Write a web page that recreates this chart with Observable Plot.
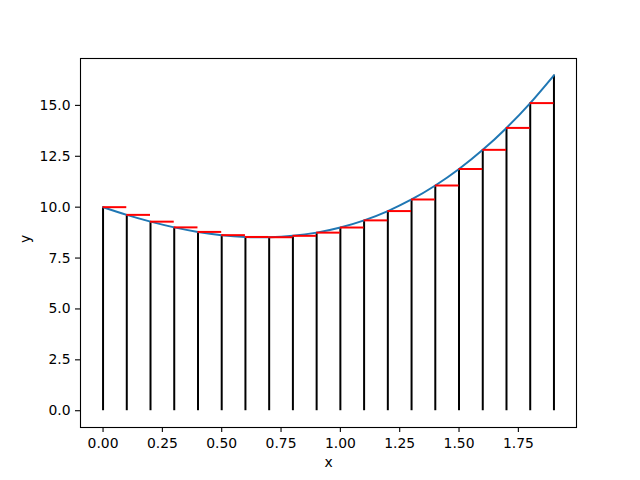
<!DOCTYPE html>
<html>
<head>
<meta charset="utf-8">
<script src="https://cdn.jsdelivr.net/npm/d3@7"></script>
<script src="https://cdn.jsdelivr.net/npm/@observablehq/plot@0.6"></script>
<style>
  html, body { margin: 0; padding: 0; background: #fff; }
</style>
</head>
<body>
<div id="chart"></div>
<script>
const xs = [0.0, 0.1, 0.2, 0.3, 0.4, 0.5, 0.6, 0.7, 0.8, 0.9, 1.0, 1.1, 1.2, 1.3, 1.4, 1.5, 1.6, 1.7, 1.8, 1.9];
const ys = [10.0, 9.621, 9.288, 9.007, 8.784, 8.625, 8.536, 8.523, 8.592, 8.749, 9.0, 9.351, 9.808, 10.377, 11.064, 11.875, 12.816, 13.893, 15.112, 16.479];
const xTicks = [0, 0.25, 0.5, 0.75, 1.0, 1.25, 1.5, 1.75];
const yTicks = [0, 2.5, 5.0, 7.5, 10.0, 12.5, 15.0];

const points = xs.map((x, i) => ({x, y: ys[i]}));
const steps = xs.slice(0, -1).map((x, i) => ({x1: x, x2: xs[i + 1], y: ys[i]}));

const chart = Plot.plot({
  width: 640,
  height: 480,
  marginLeft: 80,
  marginRight: 64,
  marginTop: 58,
  marginBottom: 53,
  style: {fontFamily: "DejaVu Sans", fontSize: "13.9px", color: "black", background: "white"},
  x: {domain: [-0.095, 1.995]},
  y: {domain: [-0.824, 17.303]},
  marks: [
    Plot.ruleX(points, {x: "x", y1: 0, y2: "y", stroke: "black", strokeWidth: 2}),
    Plot.line(points, {x: "x", y: "y", stroke: "#1f77b4", strokeWidth: 2, curve: "natural"}),
    Plot.ruleY(steps, {y: "y", x1: "x1", x2: "x2", stroke: "red", strokeWidth: 2}),
    Plot.frame({stroke: "black", strokeWidth: 1.1}),
    Plot.axisX(xTicks, {tickFormat: d3.format(".2f"), tickSize: 5, tickPadding: 6, strokeWidth: 1.1, label: null}),
    Plot.axisY(yTicks, {tickFormat: d3.format(".1f"), tickSize: 5, tickPadding: 5, strokeWidth: 1.1, label: null}),
    Plot.text(["x"], {frameAnchor: "bottom", dy: 39, fill: "black", fontSize: 13.9}),
    Plot.text(["y"], {frameAnchor: "left", dx: -55, rotate: -90, fill: "black", fontSize: 13.9})
  ]
});
document.getElementById("chart").appendChild(chart);
</script>
</body>
</html>
